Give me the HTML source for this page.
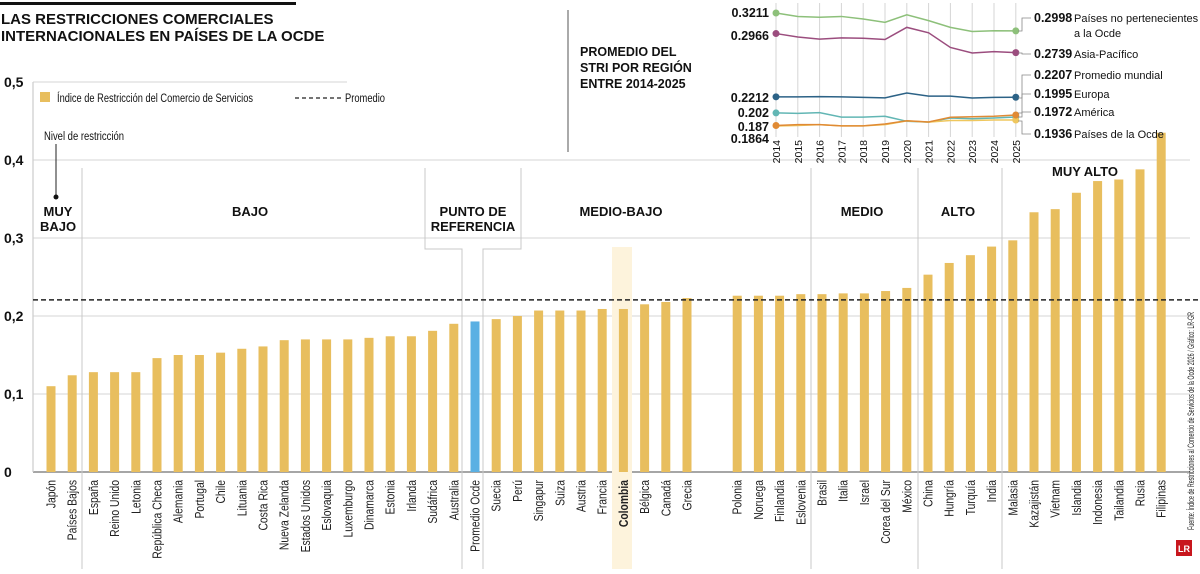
<!DOCTYPE html>
<html><head><meta charset="utf-8">
<style>
body{margin:0;background:#fff;width:1200px;height:569px;overflow:hidden;font-family:"Liberation Sans",sans-serif;}
svg text{font-family:"Liberation Sans",sans-serif;}
</style></head>
<body>
<svg id="c" width="1200" height="569" xmlns="http://www.w3.org/2000/svg">
<rect x="0" y="2" width="296" height="3" fill="#111"/>
<text x="1" y="24" font-size="15" font-weight="bold" fill="#111"><tspan x="1">LAS RESTRICCIONES COMERCIALES</tspan><tspan x="1" dy="17">INTERNACIONALES EN PAÍSES DE LA OCDE</tspan></text>
<g id="grid"></g>
<rect x="612" y="247" width="20" height="322" fill="#fdf3dc"/>
<g id="seps" stroke="#c8c8c8" stroke-width="1" fill="none"></g>
<g id="bars"></g>
<g id="labels"></g>
<g id="inset"></g>
</svg>
<script>
const countries=["Japón","Países Bajos","España","Reino Unido","Letonia","República Checa","Alemania","Portugal","Chile","Lituania","Costa Rica","Nueva Zelanda","Estados Unidos","Eslovaquia","Luxemburgo","Dinamarca","Estonia","Irlanda","Sudáfrica","Australia","Promedio Ocde","Suecia","Perú","Singapur","Suiza","Austria","Francia","Colombia","Bélgica","Canadá","Grecia","Polonia","Noruega","Finlandia","Eslovenia","Brasil","Italia","Israel","Corea del Sur","México","China","Hungría","Turquía","India","Malasia","Kazajistán","Vietnam","Islandia","Indonesia","Tailandia","Rusia","Filipinas"];
const stri=[0.110,0.124,0.128,0.128,0.128,0.146,0.150,0.150,0.153,0.158,0.161,0.169,0.170,0.170,0.170,0.172,0.174,0.174,0.181,0.190,0.193,0.196,0.200,0.207,0.207,0.207,0.209,0.209,0.215,0.218,0.223,0.226,0.226,0.226,0.228,0.228,0.229,0.229,0.232,0.236,0.253,0.268,0.278,0.289,0.297,0.333,0.337,0.358,0.373,0.375,0.388,0.435];
const average=[0.2207];
const yTicks=[0,0.1,0.2,0.3,0.4,0.5];
const yTickLabels=["0","0,1","0,2","0,3","0,4","0,5"];
const years=["2014","2015","2016","2017","2018","2019","2020","2021","2022","2023","2024","2025"];
const sNoOcde=[0.3211,0.317,0.316,0.317,0.314,0.310,0.319,0.312,0.304,0.299,0.300,0.2998];
const sAsia=[0.2966,0.2925,0.290,0.2915,0.291,0.2895,0.304,0.2975,0.280,0.2735,0.275,0.2739];
const sMundial=[0.2212,0.2212,0.2215,0.2212,0.2205,0.2200,0.2257,0.2220,0.2220,0.2198,0.2205,0.2207];
const sAmerica=[0.202,0.2015,0.2023,0.197,0.197,0.198,0.192,0.191,0.196,0.195,0.196,0.1972];
const sEuropa=[0.187,0.188,0.188,0.1865,0.1865,0.1888,0.1927,0.1912,0.1968,0.1975,0.198,0.1995];
const sOcde=[0.1864,0.187,0.188,0.1865,0.1865,0.188,0.1925,0.191,0.193,0.193,0.1935,0.1936];

const NS="http://www.w3.org/2000/svg";
function mk(t,a,p,txt){const e=document.createElementNS(NS,t);for(const k in a)e.setAttribute(k,a[k]);if(txt!==undefined)e.textContent=txt;p.appendChild(e);return e;}
const Y=v=>472-v*780;
const X=i=>51+i*21.2+(i>=31?29:0);
const grid=document.getElementById('grid');
yTicks.forEach((t,i)=>{
  const g=mk('line',{x1:33,x2:i==5?347:1190,y1:Y(t),y2:Y(t),stroke:i==0?'#888':'#ddd','stroke-width':i==0?1.5:1.2},grid);
  
  
  const l=mk('text',{x:4,y:Y(t)+5,'font-size':14,'font-weight':'bold',fill:'#111'},grid,yTickLabels[i]);
  
  
});
const ax=mk('line',{x1:33,x2:33,y1:82,y2:472,stroke:'#ccc','stroke-width':1.2},grid);


const seps=document.getElementById('seps');
[82,811,918,1002].forEach(x=>{const l=mk('line',{x1:x,x2:x,y1:168,y2:569},seps);

});
const box=mk('path',{d:'M425 168V249H462V569M521 168V249H483V569'},seps);


const bars=document.getElementById('bars');
stri.forEach((v,i)=>{
  const r=mk('rect',{x:X(i)-4.5,y:Y(v),width:9,height:472-Y(v),fill:i==20?'#5ab0e3':'#e8be5e'},bars);
  
  
  const t=mk('text',{transform:`translate(${X(i)+4.5},480) rotate(-90) scale(0.9,1.15)`,'text-anchor':'end','font-size':11.5,fill:'#222','font-weight':countries[i]=='Colombia'?'bold':'normal'},bars,countries[i]);
  
  
});
const av=mk('line',{x1:33,x2:1200,y1:Y(average[0]),y2:Y(average[0]),stroke:'#222','stroke-width':1.5,'stroke-dasharray':'5,3'},bars);


const lab=document.getElementById('labels');
function txt(x,y,s,o,name){const t=mk('text',Object.assign({x:x,y:y,fill:'#111'},o),lab,s);return t;}
const lr=mk('rect',{x:40,y:92,width:10,height:10,fill:'#e8be5e'},lab);


txt(57,102,'Índice de Restricción del Comercio de Servicios',{'font-size':11.5,textLength:196,lengthAdjust:'spacingAndGlyphs'},'legend-entry-index');
const ld=mk('line',{x1:295,x2:343,y1:98,y2:98,stroke:'#222','stroke-width':1.2,'stroke-dasharray':'4,3'},lab);


txt(345,102,'Promedio',{'font-size':11.5,textLength:40,lengthAdjust:'spacingAndGlyphs'},'legend-entry-average');
txt(44,140,'Nivel de restricción',{'font-size':11.5,textLength:80,lengthAdjust:'spacingAndGlyphs'},'level-note');
const nl=mk('line',{x1:56,x2:56,y1:144,y2:197,stroke:'#222'},lab);


const nd=mk('circle',{cx:56,cy:197,r:2.5,fill:'#111'},lab);


const cb={'font-size':13,'font-weight':'bold','text-anchor':'middle'};
txt(58,216,'MUY',cb,'category-muy-bajo');txt(58,231,'BAJO',cb,'category-muy-bajo-2');
txt(250,216,'BAJO',cb,'category-bajo');
txt(473,216,'PUNTO DE',cb,'category-referencia');txt(473,231,'REFERENCIA',cb,'category-referencia-2');
txt(621,216,'MEDIO-BAJO',cb,'category-medio-bajo');
txt(862,216,'MEDIO',cb,'category-medio');
txt(958,216,'ALTO',cb,'category-alto');
txt(1085,176,'MUY ALTO',cb,'category-muy-alto');
const src=mk('text',{transform:'translate(1194,530) rotate(-90)','font-size':9,fill:'#222',textLength:218,lengthAdjust:'spacingAndGlyphs'},lab,'Fuente: Índice de Restricciones al Comercio de Servicios de la Ocde 2026 / Gráfico: LR-GR');


const logo=mk('rect',{x:1176,y:540,width:16,height:16,fill:'#c8161d'},lab);


txt(1184,552,'LR',{'font-size':9,'font-weight':'bold',fill:'#fff','text-anchor':'middle'},'lr-logo-text');
const ins=document.getElementById('inset');
const dv=mk('line',{x1:568,x2:568,y1:10,y2:152,stroke:'#555'},ins);


const ib={'font-size':12.5,'font-weight':'bold',fill:'#111'};
['PROMEDIO DEL','STRI POR REGIÓN','ENTRE 2014-2025'].forEach((s,i)=>{const t=mk('text',Object.assign({x:580,y:56+i*16},ib),ins,s);});
const IX=i=>776+i*21.8;
const IY=v=>13+(0.3211-v)*839;
years.forEach((yr,i)=>{
  const l=mk('line',{x1:IX(i),x2:IX(i),y1:3,y2:137,stroke:'#d5d5d5'},ins);
  
  
  const t=mk('text',{transform:`translate(${IX(i)+4},140) rotate(-90)`,'text-anchor':'end','font-size':10.5,fill:'#111'},ins,yr);
  
  
});
const series=[[sNoOcde,'#8dc07a','no-ocde'],[sAsia,'#9b4d7e','asia-pacifico'],[sMundial,'#2c6286','promedio-mundial'],[sAmerica,'#62b6b4','america'],[sOcde,'#efc75e','paises-ocde'],[sEuropa,'#e08a34','europa']];
series.forEach(([d,c,n])=>{
  const p=mk('polyline',{points:d.map((v,i)=>IX(i)+','+IY(v)).join(' '),fill:'none',stroke:c,'stroke-width':1.5},ins);
  
  
  [0,11].forEach(i=>{if(n=='paises-ocde'&&i==0)return;const ci=mk('circle',{cx:IX(i),cy:IY(d[i]),r:3.5,fill:c},ins);
  
  });
});
const lb={'font-size':12.5,'font-weight':'bold',fill:'#111','text-anchor':'end'};
[['0.3211',17],['0.2966',40],['0.2212',102],['0.202',117],['0.187',131],['0.1864',143]].forEach(([s,y])=>{const t=mk('text',Object.assign({x:769,y:y},lb),ins,s);});
const rl=[['0.2998','Países no pertenecientes',22,31],['0.2739','Asia-Pacífico',58,53],['0.2207','Promedio mundial',79,98],['0.1995','Europa',98,113],['0.1972','América',116,117],['0.1936','Países de la Ocde',138,121]];
rl.forEach(([v,n,y,ty])=>{
  const t=mk('text',{x:1034,y:y,'font-size':12.5,'font-weight':'bold',fill:'#111'},ins,v);
  
  
  const t2=mk('text',{x:1074,y:y,'font-size':11,fill:'#111'},ins,n);
  
  
  const c=mk('polyline',{points:`1031,${y-4} 1022,${y-4} 1022,${ty} 1018,${ty}`,fill:'none',stroke:'#888','stroke-width':0.8},ins);
  
  
});
const t3=mk('text',{x:1074,y:37,'font-size':11,fill:'#111'},ins,'a la Ocde');


</script>
</body></html>
